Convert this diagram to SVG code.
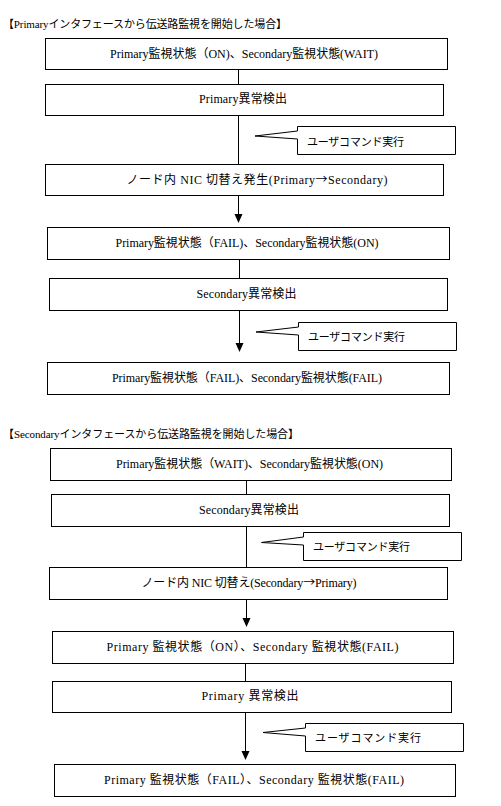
<svg xmlns="http://www.w3.org/2000/svg" width="501" height="806" viewBox="0 0 501 806">
<defs>
<style>
.box{fill:#fff;stroke:#000;stroke-width:1}
.co{fill:#fff;stroke:#000;stroke-width:1}
.ln{stroke:#000;stroke-width:1;fill:none}
text{font-family:"Liberation Serif","Noto Sans CJK JP",serif;font-size:12px;fill:#000}
.c{text-anchor:middle}
.cot{font-size:11px}
.tt{font-size:11px}
.ar{font-family:"Noto Sans CJK JP",sans-serif}
</style>
</defs>
<rect width="501" height="806" fill="#fff"/>
<text id="title1" class="tt" x="3" y="27.5" textLength="284" lengthAdjust="spacing">【Primaryインタフェースから伝送路監視を開始した場合】</text>
<text id="title2" class="tt" x="3" y="438" textLength="296" lengthAdjust="spacing">【Secondaryインタフェースから伝送路監視を開始した場合】</text>
<g id="connectors">
<line class="ln" x1="238.5" y1="69.5" x2="238.5" y2="84.5"/>
<line class="ln" x1="238.5" y1="115.5" x2="238.5" y2="164.5"/>
<path class="ln" d="M238.5,195.5 V214"/>
<path d="M234.5,214 L242.5,214 L238.5,223 Z" fill="#000"/>
<line class="ln" x1="239.5" y1="259.5" x2="239.5" y2="278.5"/>
<path class="ln" d="M239.5,310.5 V343"/>
<path d="M235.5,343 L243.5,343 L239.5,352 Z" fill="#000"/>
<line class="ln" x1="246.5" y1="480.5" x2="246.5" y2="494.5"/>
<line class="ln" x1="246.5" y1="526.5" x2="246.5" y2="567.5"/>
<path class="ln" d="M246.5,599.5 V618"/>
<path d="M242.5,618 L250.5,618 L246.5,627 Z" fill="#000"/>
<line class="ln" x1="245.5" y1="663.5" x2="245.5" y2="681.5"/>
<path class="ln" d="M245.5,712.5 V751"/>
<path d="M241.5,751 L249.5,751 L245.5,760 Z" fill="#000"/>
</g>
<g id="n1"><rect class="box" x="45.5" y="38.5" width="402" height="31"/><text class="c" x="244" y="58" textLength="268" lengthAdjust="spacing">Primary監視状態（ON)、Secondary監視状態(WAIT)</text></g>
<g id="n2"><rect class="box" x="45.5" y="84.5" width="398" height="31"/><text class="c" x="243" y="103" textLength="88" lengthAdjust="spacing">Primary異常検出</text></g>
<g id="cb1"><path class="co" d="M297.5,126.5 H455.5 V154.5 H297.5 V139 L255,136 L297.5,131 Z"/><text class="cot" x="307" y="146" textLength="97" lengthAdjust="spacing">ユーザコマンド実行</text></g>
<g id="n3"><rect class="box" x="45.5" y="164.5" width="398" height="31"/><text class="c" x="257" y="184" textLength="261" lengthAdjust="spacing">ノード内 NIC 切替え発生(Primary<tspan class="ar">→</tspan>Secondary)</text></g>
<g id="n4"><rect class="box" x="47.5" y="227.5" width="402" height="32"/><text class="c" x="247" y="247" textLength="263" lengthAdjust="spacing">Primary監視状態（FAIL)、Secondary監視状態(ON)</text></g>
<g id="n5"><rect class="box" x="49.5" y="278.5" width="398" height="32"/><text class="c" x="246.5" y="298" textLength="100" lengthAdjust="spacing">Secondary異常検出</text></g>
<g id="cb2"><path class="co" d="M298.5,322.5 H456.5 V350.5 H298.5 V335 L256,332 L298.5,327 Z"/><text class="cot" x="308" y="341" textLength="97" lengthAdjust="spacing">ユーザコマンド実行</text></g>
<g id="n6"><rect class="box" x="47.5" y="362.5" width="402" height="32"/><text class="c" x="247" y="382" textLength="270" lengthAdjust="spacing">Primary監視状態（FAIL)、Secondary監視状態(FAIL)</text></g>
<g id="n7"><rect class="box" x="50.5" y="448.5" width="401" height="32"/><text class="c" x="249.5" y="468" textLength="267" lengthAdjust="spacing">Primary監視状態（WAIT)、Secondary監視状態(ON)</text></g>
<g id="n8"><rect class="box" x="51.5" y="494.5" width="398" height="32"/><text class="c" x="249" y="514" textLength="100" lengthAdjust="spacing">Secondary異常検出</text></g>
<g id="cb3"><path class="co" d="M303.5,532.5 H461.5 V560.5 H303.5 V545 L261.5,542.5 L303.5,537 Z"/><text class="cot" x="313" y="551" textLength="97" lengthAdjust="spacing">ユーザコマンド実行</text></g>
<g id="n9"><rect class="box" x="49.5" y="567.5" width="398" height="32"/><text class="c" x="249" y="587" textLength="215" lengthAdjust="spacing">ノード内 NIC 切替え(Secondary<tspan class="ar">→</tspan>Primary)</text></g>
<g id="n10"><rect class="box" x="52.5" y="631.5" width="401" height="32"/><text class="c" x="252.5" y="651" textLength="292" lengthAdjust="spacing">Primary 監視状態（ON）、Secondary 監視状態(FAIL)</text></g>
<g id="n11"><rect class="box" x="52.5" y="681.5" width="399" height="31"/><text class="c" x="250" y="700" textLength="97" lengthAdjust="spacing">Primary 異常検出</text></g>
<g id="cb4"><path class="co" d="M305.5,723.5 H463.5 V751.5 H305.5 V736 L263,732.5 L305.5,728 Z"/><text class="cot" x="315" y="742" textLength="106" lengthAdjust="spacing">ユーザコマンド実行</text></g>
<g id="n12"><rect class="box" x="54.5" y="764.5" width="401" height="32"/><text class="c" x="254" y="784" textLength="300" lengthAdjust="spacing">Primary 監視状態（FAIL）、Secondary 監視状態(FAIL)</text></g>
</svg>
